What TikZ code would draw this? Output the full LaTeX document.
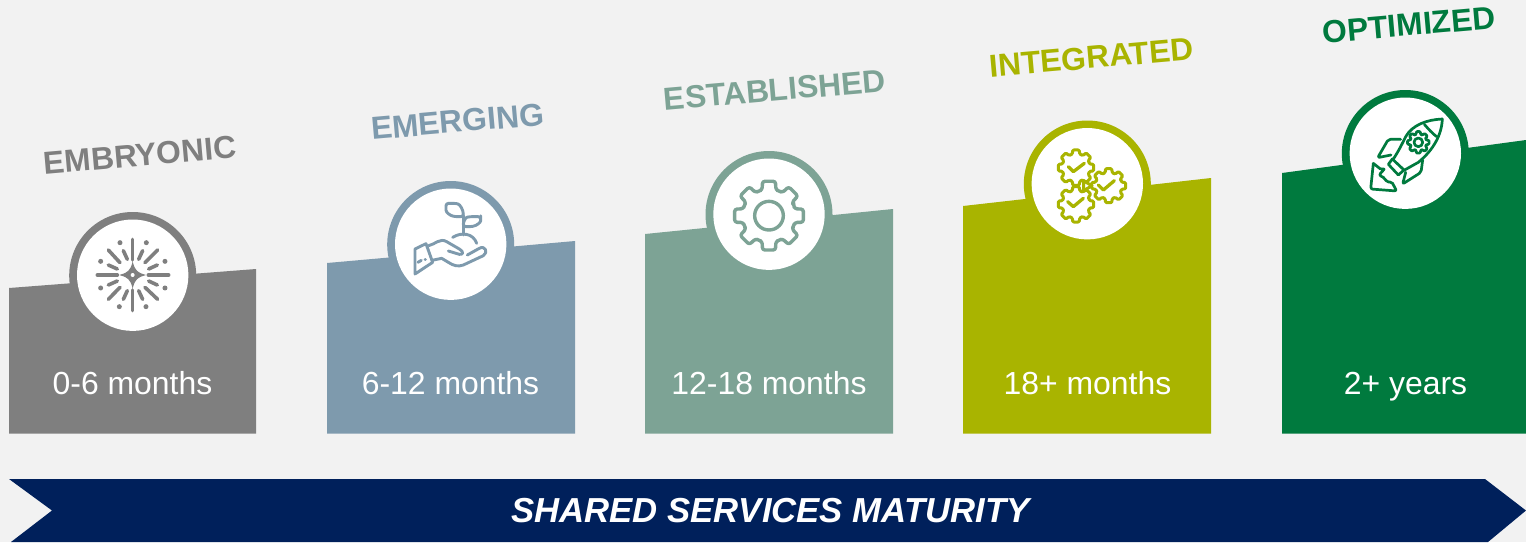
\documentclass[tikz,border=0pt]{standalone}
\usepackage{fontspec}
\setmainfont{Liberation Sans}
\usetikzlibrary{calc}
\definecolor{bgc}{HTML}{F2F2F2}
\definecolor{cgray}{HTML}{7F7F7F}
\definecolor{cblue}{HTML}{7E9AAD}
\definecolor{csage}{HTML}{7DA395}
\definecolor{colive}{HTML}{A9B400}
\definecolor{cgreen}{HTML}{007A3E}
\definecolor{cnavy}{HTML}{00205B}
\tikzset{
  stage/.style={fill=#1,draw=none},
  ringc/.style={fill=#1,draw=none},
  inner/.style={fill=white,draw=none},
  period/.style={text=white,font=\fontsize{31.9}{36}\selectfont,anchor=base,inner sep=0pt},
  heading/.style={text=#1,font=\fontsize{31.8}{38}\selectfont\bfseries,rotate=5,inner sep=0pt},
  icn/.style={draw=#1,line cap=round,line join=round,line width=2.9pt,fill=none},
  zoomed/.style={x=0.3333pt,y=-0.3333pt},
}
% gear path centred at (#2,#3): root radius #4, outer radius #5, style #6; #1 teeth
\newcommand{\gearshape}[6][8]{%
  \pgfmathsetmacro{\gstep}{360/#1}%
  \draw[#6] ($(#2,#3)+(-\gstep*0.5:#4)$)
   \foreach \g in {1,...,#1} {
     -- ($(#2,#3)+(\g*\gstep-\gstep-\gstep*0.33:#4)$)
     -- ($(#2,#3)+(\g*\gstep-\gstep-\gstep*0.24:#5)$)
     -- ($(#2,#3)+(\g*\gstep-\gstep+\gstep*0.24:#5)$)
     -- ($(#2,#3)+(\g*\gstep-\gstep+\gstep*0.33:#4)$)
     -- ($(#2,#3)+(\g*\gstep-\gstep+\gstep*0.5:#4)$)
   } -- cycle;}
\begin{document}
\begin{tikzpicture}[x=1pt,y=-1pt]
\useasboundingbox (0,0) rectangle (1526,542);
\fill[bgc] (0,0) rectangle (1526,542);
% stages
\path[stage=cgray] (9,288) -- (256,269) -- (256,433.5) -- (9,433.5) -- cycle;
\path[stage=cblue] (327,263) -- (575,241) -- (575,433.5) -- (327,433.5) -- cycle;
\path[stage=csage] (645,234) -- (893,209) -- (893,433.5) -- (645,433.5) -- cycle;
\path[stage=colive] (963,206) -- (1211,178) -- (1211,433.5) -- (963,433.5) -- cycle;
\path[stage=cgreen] (1282,173) -- (1526,140) -- (1526,433.5) -- (1282,433.5) -- cycle;
% rings
\path[ringc=cgray] (132.7,275.5) circle[radius=63.5];
\path[ringc=cblue] (450.7,244.5) circle[radius=63.5];
\path[ringc=csage] (769,214.5) circle[radius=63.5];
\path[ringc=colive] (1087.3,184) circle[radius=63.5];
\path[ringc=cgreen] (1405.3,153.5) circle[radius=63.5];
\path[inner] (132.7,275.2) circle[radius=55.7];
\path[inner] (450.7,244.2) circle[radius=55.7];
\path[inner] (769,214.2) circle[radius=55.7];
\path[inner] (1087.3,183.7) circle[radius=55.7];
\path[inner] (1405.3,153.2) circle[radius=55.7];
% icon 1: burst
\begin{scope}[shift={(60,200)},zoomed]
 \foreach \a/\b/\c/\d in {218/118/218/180,218/270/218/332,112/225/172/225,265/225/326/225,
   145/150/180/188,293/150/255/188,145/298/180/262,293/298/255/262,
   190/152/202/178,248/152/236/178,145/195/172/207,292/195/266/207,
   145/255/172/243,292/255/266/243,190/298/202/272,248/298/236/272}
   \draw[cgray,line width=3.6pt,line cap=round] (\a,\b) -- (\c,\d);
 \foreach \a/\b in {180/128,259/128,122/184,315/184,122/264,315/264,178/320,258/320}
   \fill[cgray] (\a,\b) circle[radius=7.5];
 \fill[cgray,draw=cgray,line width=1pt] (218,190) .. controls (224,212) and (232,219) .. (253,225)
   .. controls (232,231) and (224,238) .. (218,260)
   .. controls (212,238) and (204,231) .. (183,225)
   .. controls (204,219) and (212,212) .. (218,190) -- cycle;
 \fill[white] (218,225) circle[radius=6];
\end{scope}
% icon 2: plant in hand
\begin{scope}[shift={(380,175)},zoomed,every path/.append style={icn=cblue}]
 \draw[rounded corners=2.5pt] (198,85) -- (226,85) .. controls (240,88) and (250,105) .. (250,125) -- (228,125) .. controls (210,122) and (198,112) .. (198,98) -- cycle;
 \draw[rounded corners=2.5pt] (302,125) -- (268,125) .. controls (256,128) and (250,142) .. (250,155) -- (272,155) .. controls (290,152) and (302,142) .. (302,130) -- cycle;
 \draw (250,122) -- (250,180);
 \draw (218,187) .. controls (245,170) and (280,175) .. (290,205);
 \draw (105,222) -- (138,206) -- (158,262) -- (105,297) -- cycle;
 \draw (114,262) -- (124,256);
 \draw (135,253) -- (136,253);
 \draw (146,212) .. controls (165,208) and (180,188) .. (200,200) -- (238,222) .. controls (252,230) and (250,240) .. (238,238) -- (205,228);
 \draw (262,240) -- (298,220) .. controls (315,210) and (326,232) .. (310,242) -- (250,270) .. controls (235,276) and (220,272) .. (205,262) -- (185,250) -- (156,256);
\end{scope}
% icon 3: gear
\begin{scope}[shift={(695,145)},zoomed]
 \gearshape{222}{212}{80}{105}{icn=csage,line width=3.4pt,rounded corners=2.5pt}
 \draw[icn=csage,line width=3.4pt] (222,212) circle[radius=43];
\end{scope}
% icon 4: three gears
\begin{scope}[shift={(1015,115)},zoomed]
 \gearshape{281}{212}{40}{52}{icn=colive,line width=3pt,rounded corners=1.2pt}
 \gearshape{183}{158}{42}{54}{icn=colive,line width=3pt,rounded corners=1.2pt,fill=white}
 \gearshape{183}{268}{42}{54}{icn=colive,line width=3pt,rounded corners=1.2pt,fill=white}
 \draw[icn=colive,line width=3pt,fill=white] (206,198) -- (231,212) -- (206,227) -- cycle;
 \draw[icn=colive,line width=3.3pt] (160,155) -- (175,170) -- (208,145);
 \draw[icn=colive,line width=3.3pt] (158,260) -- (175,275) -- (205,250);
 \draw[icn=colive,line width=3.3pt] (250,210) -- (265,225) -- (298,197);
\end{scope}
% icon 5: rocket
\begin{scope}[shift={(1335,85)},zoomed,every path/.append style={icn=cgreen,line width=2.7pt}]
 \draw (322,102) .. controls (275,104) and (232,120) .. (212,155) .. controls (202,175) and (190,200) .. (175,222);
 \draw (322,102) .. controls (320,150) and (295,195) .. (250,232) -- (207,256);
 \draw (268,118) .. controls (280,132) and (292,145) .. (305,155);
 \draw (172,222) -- (160,238) -- (190,270) -- (207,255) -- cycle;
 \draw[rounded corners=2pt] (197,163) -- (160,163) -- (128,218) -- (168,210);
 \draw[rounded corners=2pt] (263,225) -- (258,262) -- (203,297) -- (212,262);
 \draw[rounded corners=2pt] (115,235) -- (107,312) -- (185,318) -- (170,290) -- (155,292) -- (150,280) -- (132,270) -- (150,250) -- (140,255) -- (115,235);
 \gearshape{250}{172}{25}{33}{icn=cgreen,line width=2.7pt,rounded corners=1pt}
 \draw (250,172) circle[radius=13];
\end{scope}
% arrow
\path[fill=cnavy] (9,479) -- (1485,479) -- (1526,510.5) -- (1488,542) -- (11,542) -- (52,510.5) -- cycle;
% text
\node[heading=cgray] (h1) at (140,155) {EMBRYONIC};
\node[heading=cblue] (h2) at (457.5,121.5) {EMERGING};
\node[heading=csage] (h3) at (774.5,90) {ESTABLISHED};
\node[heading=colive] (h4) at (1091.5,57.5) {INTEGRATED};
\node[heading=cgreen] (h5) at (1409,25) {OPTIMIZED};
\node[period] (p1) at (132.5,394) {0-6 months};
\node[period] (p2) at (450.5,394) {6-12 months};
\node[period] (p3) at (769,394) {12-18 months};
\node[period] (p4) at (1087.5,394) {18+ months};
\node[period] (p5) at (1405.5,394) {2+ years};
\node[text=white,font=\fontsize{34.7}{40}\selectfont\bfseries\itshape,inner sep=0pt] (m) at (770.5,511) {SHARED SERVICES MATURITY};
\end{tikzpicture}
\end{document}
